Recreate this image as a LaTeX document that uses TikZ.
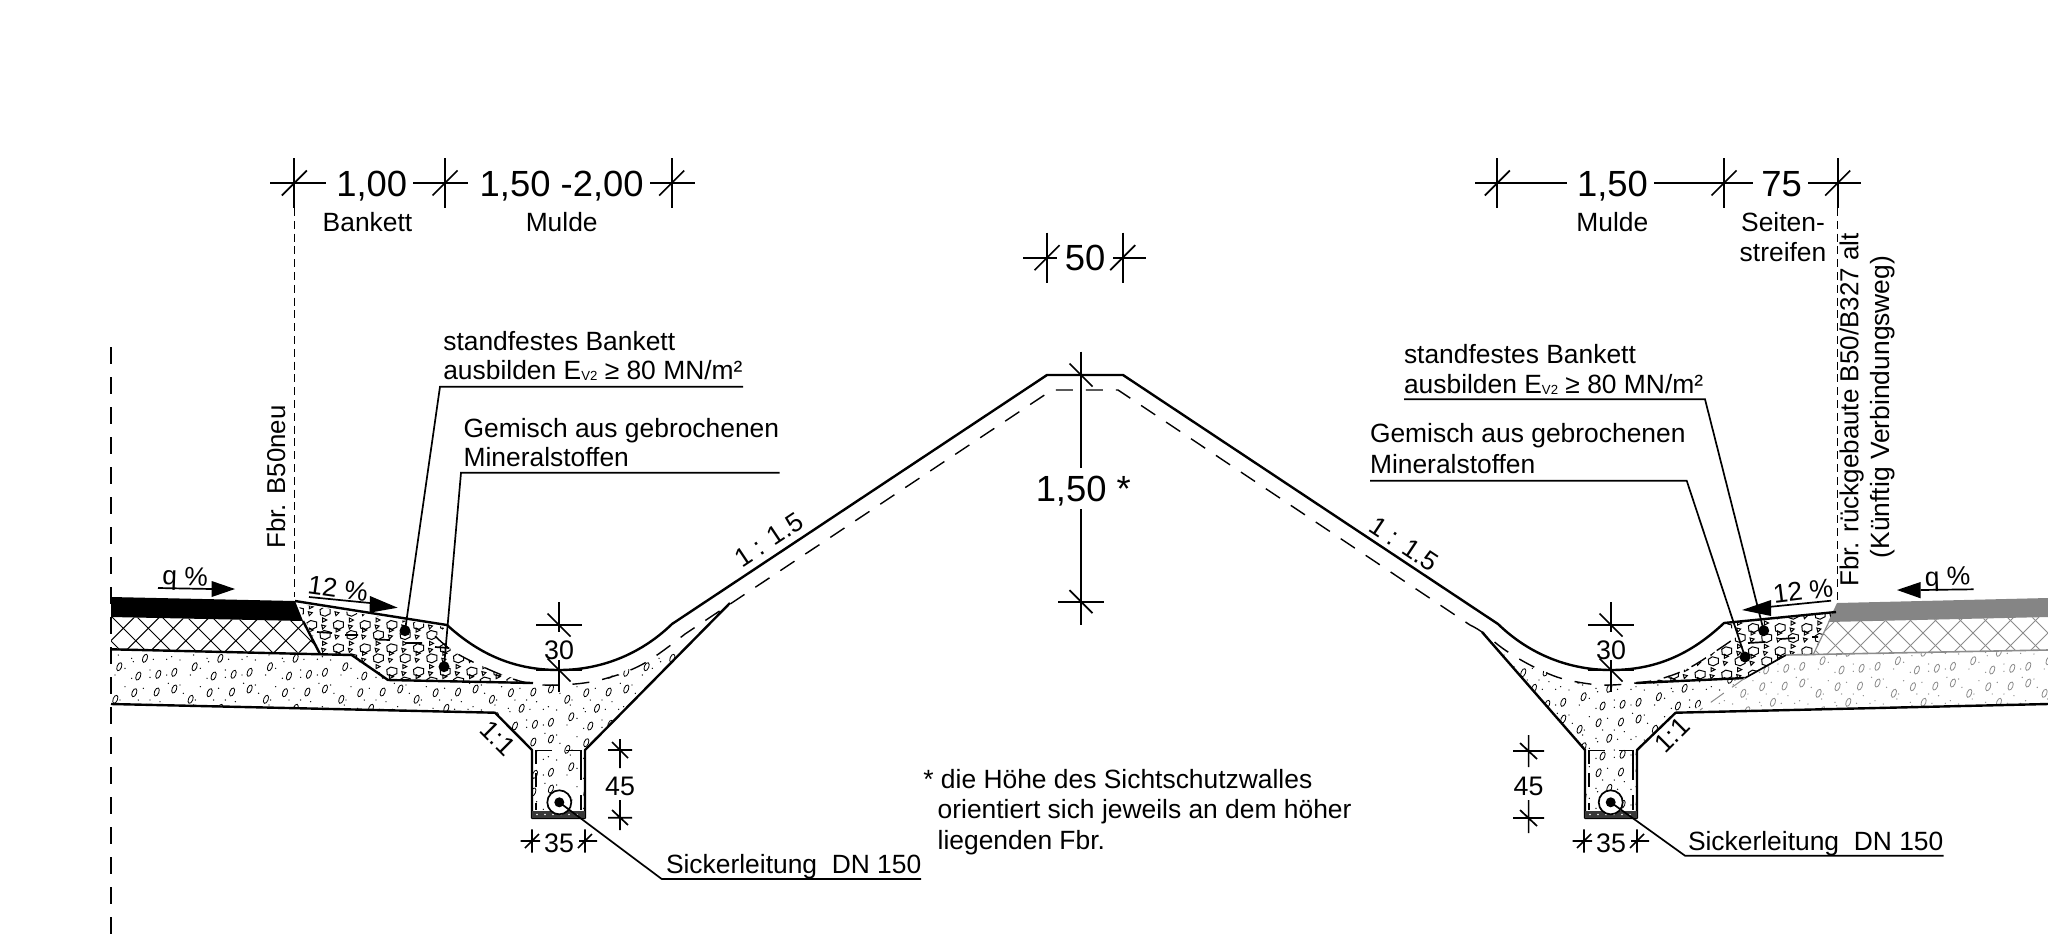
\documentclass[tikz,border=0pt]{standalone}
\usepackage{fontspec}
\setmainfont{Liberation Sans}
\newcommand{\szS}{\fontsize{13.2}{15}\selectfont}
\newcommand{\szM}{\fontsize{13.4}{15}\selectfont}
\newcommand{\szL}{\fontsize{18.2}{20}\selectfont}
\newcommand{\evz}{E\raisebox{-0.8pt}{\fontsize{6.6}{8}\selectfont V2}}
\tikzset{
  main/.style={line width=1.2pt,line join=round},
  fine/.style={line width=0.85pt},
  hair/.style={line width=0.4pt},
  axisl/.style={line width=0.8pt,dash pattern=on 8.5pt off 6.5pt},
  slopel/.style={line width=0.7pt,dash pattern=on 8.5pt off 6.5pt},
  fbrl/.style={line width=0.6pt,dash pattern=on 4pt off 2.4pt},
  txt/.style={inner sep=0pt,outer sep=0pt,text=black},
  tS/.style={txt,font=\szS},
  tM/.style={txt,font=\szM},
  tL/.style={txt,font=\szL},
  leaderdot/.style={fill=black,draw=none},
}
\definecolor{roadgray}{HTML}{858585}
\definecolor{laygray}{HTML}{8C8C8C}
% dimension ticks: vertical stroke with slash
\newcommand{\vtick}[3][25]{%
  \draw[fine] (#2,#3-#1) -- (#2,#3+#1);
  \draw[fine] (#2-#1/2,#3+#1/2) -- (#2+#1/2,#3-#1/2);}
\newcommand{\htick}[3][23]{%
  \draw[fine] (#2-#1,#3) -- (#2+#1,#3);
  \draw[fine] (#2-#1/2,#3-#1/2) -- (#2+#1/2,#3+#1/2);}
% gravel pattern: args dx dy colour imin imax jmin jmax
\newcommand{\gravel}[7]{%
 \foreach \i in {#4,...,#5}{\foreach \j in {#6,...,#7}{%
  \begin{scope}[shift={({#1+\i*75.33},{#2+\j*50})},draw=#3,fill=#3]
   \foreach \p/\q in {145/658.3,119.3/666.7,138.3/676,158.3/674.3,174.3/672.3,134.3/692.7,156.7/692,174.3/689,115.3/699.3}{%
     \draw[hair,rotate around={-22:(\p,\q)}] (\p,\q) ellipse [x radius=2.2,y radius=4.3];}
   \foreach \p/\q in {118.3/655,131.7/658.3,133.3/661.7,153.3/659.3,166.7/659.3,171.7/656.7,180/660,125/668.3,115/675,131.7/678.3,150/670,150/677.3,166.7/675,143.3/688.3,125/686.7,120/700,138.3/700,150/700,160/701.7,168.3/683.3,180/685,183.3/693.3}{%
     \fill (\p,\q) circle [radius=0.7];}
  \end{scope}}}}
% crushed stone pattern
\newcommand{\stonecell}[2]{%
  \draw[line width=0.5pt,shift={(#1,#2)}] (-5,-2) -- (-1,-4.5) -- (5,-3) -- (5,2) -- (0,4.5) -- (-4.5,3) -- cycle;
  \draw[line width=0.5pt,shift={(#1,#2)}] (11,-7) -- (15,-5) -- (11,-3) -- cycle (10,0) -- (14,1) -- (11,4) -- cycle;}
\newcommand{\stones}[6]{%
 \foreach \i in {#3,...,#4}{\foreach \j in {#5,...,#6}{%
   \stonecell{#1+\i*26.7}{#2+\j*23.3}
   \stonecell{#1+13.3+\i*26.7}{#2+10+\j*23.3}}}}
\begin{document}
\begin{tikzpicture}[x=0.5pt,y=-0.5pt]
\useasboundingbox (0,0) rectangle (2048,948);
\fill[white] (0,0) rectangle (2048,948);

% ---- gravel, left
\begin{scope}
 \clip (111,649.3) -- (351.7,655) -- (388,680) -- (533,683) -- (559,685) -- (600,680) -- (643,664) -- (685,634) -- (730,603) -- (585,750) -- (585,811) -- (532,811) -- (532,750) -- (495,712.7) -- (111,704) -- cycle;
 \gravel{0}{0}{black}{0}{8}{0}{3}
\end{scope}
% ---- gravel, right funnel
\begin{scope}
 \clip (1637,750) -- (1675.6,712.7) -- (1690,712) -- (1745,678) -- (1636,683) -- (1611,685) -- (1590,684) -- (1560,678) -- (1532,666) -- (1505,650) -- (1482,632) -- (1585,750) -- (1585,811) -- (1637,811) -- cycle;
 \gravel{33}{30}{black}{17}{21}{-1}{2}
\end{scope}
% ---- gravel, right old road (grey)
\begin{scope}
 \clip (1786,655) -- (2048,650) -- (2048,704) -- (1675.6,712.7) -- (1700,710) -- (1745,678) -- cycle;
 \gravel{46}{-6}{laygray}{20}{25}{0}{2}
\end{scope}
% ---- crushed stone, left
\begin{scope}
 \clip (298,604) -- (445,627) -- (436,636) -- (456,653) -- (497,673) -- (528,683) -- (388,680) -- (352,655) -- (320,653) -- cycle;
 \stones{311.7}{625}{-1}{8}{-1}{2}
 \draw[fine] (317,632) -- (332,633) (345,635) -- (358,635) (375,639.5) -- (390,640) (405,643) -- (422,643) (435,647) -- (449,648);
\end{scope}
% ---- crushed stone, right
\begin{scope}
 \clip (1835,612) -- (1726,623) -- (1739,635) -- (1722,647) -- (1689,668) -- (1660,679) -- (1636,683) -- (1745,678) -- (1786,655) -- (1813,655) -- cycle;
 \stones{1700}{628}{-3}{5}{-1}{2}
 \draw[fine] (1748,643) -- (1765,642) (1780,639) -- (1795,638) (1812,637) -- (1818,637);
\end{scope}
% ---- cross hatch, left
\begin{scope}
 \clip (111,617) -- (303,621) -- (320,653) -- (111,649.3) -- cycle;
 \foreach \k in {-4,...,12}{\draw[line width=0.45pt] ({85+25*\k},590) -- ({165+25*\k},670);}
 \foreach \k in {-3,...,12}{\draw[line width=0.45pt] ({161.6+25*\k},590) -- ({81.6+25*\k},670);}
\end{scope}
% ---- cross hatch, right
\begin{scope}
 \clip (1829,621.7) -- (1813,655) -- (2048,650) -- (2048,617) -- cycle;
 \foreach \k in {-2,...,10}{\draw[line width=0.45pt,laygray] ({1805+25*\k},590) -- ({1885+25*\k},670);}
 \foreach \k in {-4,...,10}{\draw[line width=0.45pt,laygray] ({1891+25*\k},590) -- ({1811+25*\k},670);}
\end{scope}

% ---- roads
\fill[black] (111,597) -- (295,601) -- (303,621) -- (111,617) -- cycle;
\fill[roadgray] (1837,603) -- (2048,598) -- (2048,617) -- (1828,622) -- cycle;

% ---- layer lines, left
\draw[main] (111,649.3) -- (351.7,655) -- (388,680) -- (533,683);
\draw[main] (303,621) -- (320,654);
\draw[main] (111,704) -- (495,712.7) -- (532,750) -- (532,818) -- (585,818) -- (585,750) -- (730,603);
% ---- layer lines, right
\draw[main] (1636,683) -- (1745,678);
\draw[fine] (1745,678) -- (1786,655);
\draw[line width=0.8pt,laygray] (1786,655) -- (2048,650);
\draw[line width=0.6pt,laygray] (1813,655) -- (1829,621.7);
\draw[line width=0.5pt,laygray,dash pattern=on 8pt off 5pt] (1745,678) -- (1700,710);
\draw[main] (2048,704) -- (1675.6,712.7) -- (1637,750) -- (1637,818) -- (1585,818) -- (1585,750) -- (1482,632);

% ---- trench details
\fill[black!78] (532,811) rectangle (585,818);
\foreach \x in {537,545,553,561,569,577}{\fill[white] (\x,814.5) circle [radius=0.9];}
\fill[black!78] (1585,811) rectangle (1637,818);
\foreach \x in {1590,1598,1606,1614,1622,1630}{\fill[white] (\x,814.5) circle [radius=0.9];}
\draw[line width=0.8pt] (536,764) -- (536,750.5) -- (552,750.5) (566,750.5) -- (581,750.5) -- (581,765) (581,765) -- (581,780) (536,773) -- (536,787) (536,803) -- (536,810) (581,795) -- (581,810);
\draw[line width=0.8pt] (1589,764) -- (1589,750.5) -- (1605,750.5) (1619,750.5) -- (1633,750.5) -- (1633,765) (1633,765) -- (1633,780) (1589,773) -- (1589,787) (1589,803) -- (1589,810) (1633,795) -- (1633,810);
% pipes
\draw[fine,fill=white] (559.3,802.3) circle [radius=12];
\draw[fine,fill=white] (1610.7,802.3) circle [radius=12];
\coordinate (pipeL) at (559.3,802.3);
\coordinate (pipeR) at (1610.7,802.3);
\fill[leaderdot] (pipeL) circle [radius=5];
\fill[leaderdot] (pipeR) circle [radius=5];

% ---- ground surface
\draw[main] (295,601) -- (447,625) .. controls (480,655) and (515,670) .. (559,670) .. controls (600,670) and (640,655) .. (672,624) -- (1047,375) -- (1123,375) -- (1498,624) .. controls (1530,655) and (1570,670) .. (1611,670) .. controls (1655,670) and (1690,655) .. (1724,623) -- (1836,612);

% ---- dashed formation line
\draw[slopel] plot[smooth,tension=0.6] coordinates {(435,636) (456,653) (497,673) (528,683) (559,685) (600,680) (643,664) (685,634)} -- (1052,390) -- (1118,390) -- (1470,625);
\draw[slopel] plot[smooth,tension=0.6] coordinates {(1470,625) (1482,632) (1505,650) (1532,666) (1560,678) (1590,684) (1611,685) (1636,683) (1660,679) (1689,668) (1722,647) (1739,635)};

% ---- axis and pavement edge lines
\draw[axisl] (111,347) -- (111,936);
\draw[fbrl] (294.3,208) -- (294.3,597);
\draw[fbrl] (1837.7,208) -- (1837.7,603);

% ---- slope arrows
\draw[fine] (158,588) -- (212,589);
\fill (211.7,581) -- (235,589) -- (211.7,597) -- cycle;
\node[tS,rotate=-2] (qL) at (185,579) {q \%};
\draw[fine] (309,597) -- (370,603);
\fill (370,596) -- (397.7,607.7) -- (369.5,612.7) -- cycle;
\node[tS,rotate=-8] (twL) at (338,589) {12 \%};
\draw[fine] (1973.7,589.3) -- (1920.5,590);
\fill (1920.5,582) -- (1897,590) -- (1920.5,598.3) -- cycle;
\node[tS,rotate=2] (qR) at (1947.5,579) {q \%};
\draw[fine] (1831,600.7) -- (1771,606.7);
\fill (1771,600) -- (1742,610) -- (1771,616) -- cycle;
\node[tS,rotate=7] (twR) at (1803,591) {12 \%};

% ---- top dimensions left
\vtick{294.3}{183} \vtick{445}{183} \vtick{671.7}{183}
\draw[fine] (270,183) -- (326,183) (413,183) -- (468,183) (650,183) -- (695,183);
\node[tL,anchor=base] (d100) at (371.7,196.7) {1,00};
\node[tL,anchor=base] (d150) at (561.7,196.7) {1,50 -2,00};
\node[tS,anchor=base] (bank) at (367.5,231.7) {Bankett};
\node[tS,anchor=base] (muldeL) at (561.7,231.7) {Mulde};
% ---- top dimensions right
\vtick{1497.3}{183} \vtick{1724}{183} \vtick{1837.7}{183}
\draw[fine] (1475,183) -- (1567,183) (1654,183) -- (1753,183) (1808,183) -- (1861,183);
\node[tL,anchor=base] (dr150) at (1612.5,196.7) {1,50};
\node[tL,anchor=base] (d75) at (1781.7,196.7) {75};
\node[tS,anchor=base] (muldeR) at (1612.3,231.7) {Mulde};
\node[tS,anchor=base] (seit) at (1783,231.7) {Seiten-};
\node[tS,anchor=base] (str) at (1783,261) {streifen};
% ---- crest width
\vtick{1047}{257.7} \vtick{1122.7}{257.7}
\draw[fine] (1023,257.7) -- (1057,257.7) (1113,257.7) -- (1146,257.7);
\node[tL,anchor=base] (d50) at (1085,270.7) {50};
% ---- wall height
\htick{1081}{375} \htick{1081}{601.7}
\draw[fine] (1081,351.7) -- (1081,468) (1081,509) -- (1081,625);
\node[tL,anchor=base] (dh) at (1083.3,501) {1,50 *};

% ---- rotated road labels
\node[txt,font=\fontsize{12.9}{15}\selectfont,rotate=90] (fbrN) at (276,477) {Fbr. B50neu};
\node[txt,font=\fontsize{13}{15}\selectfont,rotate=90] (fbrA) at (1851.7,410) {Fbr. rückgebaute B50/B327 alt};
\node[tS,rotate=90] (verb) at (1883,407) {(Künftig Verbindungsweg)};

% ---- slope labels
\node[tS,rotate=33.7] (slL) at (769,540) {1 : 1.5};
\node[tS,rotate=-33.7] (slR) at (1404,544) {1 : 1.5};
\node[tS,rotate=-45] (oneL) at (498,738) {1:1};
\node[tS,rotate=45] (oneR) at (1672,735) {1:1};

% ---- 30 dims
\htick{559}{625} \htick{559}{670}
\draw[fine] (559,602) -- (559,632) (559,660) -- (559,692);
\node[tM] (d30L) at (559,650) {30};
\htick{1611}{625} \htick{1611}{670}
\draw[fine] (1611,602) -- (1611,632) (1611,660) -- (1611,692);
\node[tM] (d30R) at (1611,650) {30};

% ---- 45 dims
\draw[fine] (608,750) -- (632,750) (620,739) -- (620,768) (612,742) -- (628,758);
\draw[fine] (608,817.7) -- (632,817.7) (620,800) -- (620,830) (612,810) -- (628,825);
\node[tM] (d45L) at (620,786) {45};
\draw[fine] (1513,751) -- (1544,751) (1528.6,735) -- (1528.6,767) (1520,743) -- (1537,759);
\draw[fine] (1513,818) -- (1544,818) (1528.6,800) -- (1528.6,833) (1520,810) -- (1537,826);
\node[tM] (d45R) at (1528.6,786) {45};

% ---- 35 dims
\draw[fine] (532,829.3) -- (532,852.7) (520.7,841) -- (540,841) (525,848) -- (539,834);
\draw[fine] (585,829.3) -- (585,852.7) (579,841) -- (597,841) (578,848) -- (592,834);
\node[tM] (d35L) at (559,843) {35};
\draw[fine] (1584,829.3) -- (1584,852.7) (1572.7,841) -- (1592,841) (1577,848) -- (1591,834);
\draw[fine] (1637,829.3) -- (1637,852.7) (1631,841) -- (1649,841) (1630,848) -- (1644,834);
\node[tM] (d35R) at (1611,843) {35};

% ---- leaders, left
\coordinate (bdL) at (405,630.7);
\coordinate (gdL) at (444,666.7);
\coordinate (bcL) at (440,386.7);
\coordinate (beL) at (743,386.7);
\coordinate (gcL) at (461,472.8);
\coordinate (geL) at (779.7,472.8);
\draw[fine] (beL) -- (bcL) -- (bdL);
\draw[fine] (geL) -- (gcL) -- (gdL);
\fill[leaderdot] (bdL) circle [radius=5.5];
\fill[leaderdot] (gdL) circle [radius=5.5];
\node[tS,anchor=base west] (t1) at (443.3,350.5) {standfestes Bankett};
\node[tS,anchor=base west] (t2) at (443.3,379) {ausbilden \evz{} ≥ 80 MN/m²};
\node[tS,anchor=base west] (t3) at (463.6,437.5) {Gemisch aus gebrochenen};
\node[tS,anchor=base west] (t4) at (463.6,466.5) {Mineralstoffen};
% ---- leaders, right
\coordinate (bdR) at (1763.7,630.7);
\coordinate (gdR) at (1745,657);
\coordinate (bcR) at (1705,399.3);
\coordinate (beR) at (1404,399.3);
\coordinate (gcR) at (1686.7,480.7);
\coordinate (geR) at (1370,480.7);
\draw[fine] (beR) -- (bcR) -- (bdR);
\draw[fine] (geR) -- (gcR) -- (gdR);
\fill[leaderdot] (bdR) circle [radius=5.5];
\fill[leaderdot] (gdR) circle [radius=5.5];
\node[tS,anchor=base west] (t5) at (1404,363) {standfestes Bankett};
\node[tS,anchor=base west] (t6) at (1404,393.3) {ausbilden \evz{} ≥ 80 MN/m²};
\node[tS,anchor=base west] (t7) at (1370,442.7) {Gemisch aus gebrochenen};
\node[tS,anchor=base west] (t8) at (1370,473.7) {Mineralstoffen};

% ---- drain leaders
\coordinate (skL) at (661.7,879);
\coordinate (skLe) at (921,879);
\coordinate (skR) at (1685,855.7);
\coordinate (skRe) at (1943.7,855.7);
\draw[fine] (pipeL) -- (skL) -- (skLe);
\draw[fine] (pipeR) -- (skR) -- (skRe);
\node[tS,anchor=base west] (sL) at (666,873) {Sickerleitung\ \ DN 150};
\node[tS,anchor=base west] (sR) at (1688,850) {Sickerleitung\ \ DN 150};

% ---- footnote
\node[tS,anchor=base west] (f1) at (923.4,788.5) {* die Höhe des Sichtschutzwalles};
\node[tS,anchor=base west] (f2) at (937.7,818.5) {orientiert sich jeweils an dem höher};
\node[tS,anchor=base west] (f3) at (937.7,849) {liegenden Fbr.};
\end{tikzpicture}
\end{document}
